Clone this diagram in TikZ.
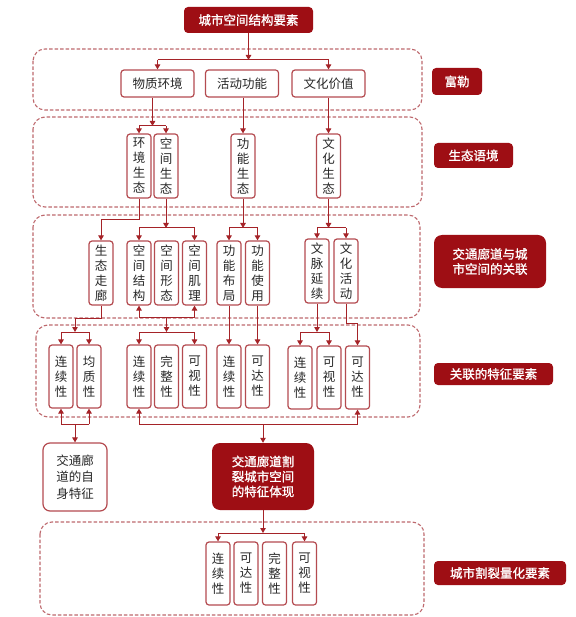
\documentclass[tikz,border=0pt]{standalone}
\usepackage{fontspec}
\newfontfamily\cjk{Noto Sans CJK SC}
\newfontfamily\cjkb[FakeBold=1.2]{Noto Sans CJK SC}
\usetikzlibrary{arrows.meta}
\definecolor{dred}{RGB}{158,14,20}
\definecolor{bred}{RGB}{180,75,80}
\definecolor{lred}{RGB}{165,35,40}
\definecolor{dashc}{RGB}{190,105,110}
\definecolor{txt}{RGB}{40,40,40}
\begin{document}
\begin{tikzpicture}[x=1pt,y=-1pt,
  every node/.style={font=\cjk\fontsize{12.5}{15}\selectfont},
  wbox/.style={draw=bred, line width=1.2pt, fill=white, rounded corners=3pt, text=txt, inner sep=0pt, align=center},
  hbox/.style={wbox, minimum width=73pt, minimum height=27pt},
  vbox/.style={wbox, minimum width=24pt, minimum height=64pt},
  dbox/.style={fill=dred, text=white, rounded corners=4pt, inner sep=0pt, align=center, font=\cjkb\fontsize{12.5}{15}\selectfont},
  region/.style={draw=dashc, dash pattern=on 3.5pt off 2pt, line width=1.1pt, rounded corners=12pt},
  con/.style={draw=lred, line width=1pt},
  arr/.style={con, -{Triangle[length=5pt,width=5.5pt]}},
]
\useasboundingbox (0,0) rectangle (575,617);
\fill[white] (0,0) rectangle (575,617);

% dashed regions
\draw[region] (33,49) rectangle (422,110);
\draw[region] (33,117) rectangle (422,207);
\draw[region] (33,215) rectangle (420,318);
\draw[region] (36,325) rectangle (420,417);
\draw[region] (40,522) rectangle (424,615);

% top
\node[dbox, minimum width=129pt, minimum height=26pt] (top) at (248.5,20) {城市空间结构要素};

% row 1
\node[hbox] (wz) at (157.5,83.5) {物质环境};
\node[hbox] (hd) at (242,83.5) {活动功能};
\node[hbox] (wh) at (328.5,83.5) {文化价值};

% row 2
\node[vbox] (hjst) at (139,166) {环\\境\\生\\态};
\node[vbox] (kjst) at (166,166) {空\\间\\生\\态};
\node[vbox] (gnst) at (243,166) {功\\能\\生\\态};
\node[vbox] (whst) at (328.5,166) {文\\化\\生\\态};

% row 3
\node[vbox] (stzl) at (101,273) {生\\态\\走\\廊};
\node[vbox] (kjjg) at (139,273) {空\\间\\结\\构};
\node[vbox] (kjxt) at (166.5,273) {空\\间\\形\\态};
\node[vbox] (kjjl) at (194.5,273) {空\\间\\肌\\理};
\node[vbox] (gnbj) at (229,273) {功\\能\\布\\局};
\node[vbox] (gnsy) at (257.5,273) {功\\能\\使\\用};
\node[vbox] (wmyx) at (317,271) {文\\脉\\延\\续};
\node[vbox] (whhd) at (346,271) {文\\化\\活\\动};

% row 4
\node[vbox, minimum height=63pt] (a1) at (61,376.5) {连\\续\\性};
\node[vbox, minimum height=63pt] (a2) at (89,376.5) {均\\质\\性};
\node[vbox, minimum height=63pt] (b1) at (139,376.5) {连\\续\\性};
\node[vbox, minimum height=63pt] (b2) at (166.5,376.5) {完\\整\\性};
\node[vbox, minimum height=63pt] (b3) at (194.5,376.5) {可\\视\\性};
\node[vbox, minimum height=63pt] (c1) at (229,376.5) {连\\续\\性};
\node[vbox, minimum height=63pt] (c2) at (257.5,376.5) {可\\达\\性};
\node[vbox, minimum height=63pt] (d1) at (300,377.5) {连\\续\\性};
\node[vbox, minimum height=63pt] (d2) at (329,377.5) {可\\视\\性};
\node[vbox, minimum height=63pt] (d3) at (357.5,377.5) {可\\达\\性};

% middle boxes
\node[wbox, minimum width=64pt, minimum height=68pt, rounded corners=7pt, font=\cjk\fontsize{12.5}{16.5}\selectfont] (self) at (75,477) {交通廊\\道的自\\身特征};
\node[dbox, minimum width=102pt, minimum height=67pt, rounded corners=8pt] (fx) at (263,476.5) {交通廊道割\\裂城市空间\\的特征体现};

% bottom row
\node[vbox, minimum height=63pt] (e1) at (218,573.5) {连\\续\\性};
\node[vbox, minimum height=63pt] (e2) at (246,573.5) {可\\达\\性};
\node[vbox, minimum height=63pt] (e3) at (274.5,573.5) {完\\整\\性};
\node[vbox, minimum height=63pt] (e4) at (304.5,573.5) {可\\视\\性};

% right labels
\node[dbox, minimum width=50pt, minimum height=27pt] (l1) at (457,81.5) {富勒};
\node[dbox, minimum width=79pt, minimum height=25pt] (l2) at (473.5,155.5) {生态语境};
\node[dbox, minimum width=112pt, minimum height=53pt, rounded corners=8pt] (l3) at (490,261.5) {交通廊道与城\\市空间的关联};
\node[dbox, minimum width=119pt, minimum height=22pt] (l4) at (493.5,374) {关联的特征要素};
\node[dbox, minimum width=132pt, minimum height=24pt] (l5) at (500,573) {城市割裂量化要素};

% connectors: top -> row 1
\coordinate (j0) at (248.5,60);
\draw[arr] (top.south) -- (j0);
\draw[con] (wz.north |- j0) -- (wh.north |- j0);
\draw[arr] (wz.north |- j0) -- (wz.north);
\draw[arr] (wh.north |- j0) -- (wh.north);

% row 1 -> row 2
\coordinate (j1) at (152.5,126);
\draw[arr] (j1 |- wz.south) -- (j1);
\draw[con] (hjst.north |- j1) -- (kjst.north |- j1);
\draw[arr] (hjst.north |- j1) -- (hjst.north);
\draw[arr] (kjst.north |- j1) -- (kjst.north);
\draw[arr] (gnst.north |- hd.south) -- (gnst.north);
\draw[arr] (wh.south) -- (whst.north);

% row 2 -> row 3
\draw[arr] (hjst.south) -- ++(0,21) -| (stzl.north);
\coordinate (j2) at (166,228);
\draw[arr] (kjst.south) -- (j2);
\draw[con] (kjjg.north |- j2) -- (kjjl.north |- j2);
\draw[arr] (kjjg.north |- j2) -- (kjjg.north);
\draw[arr] (kjjl.north |- j2) -- (kjjl.north);
\coordinate (j3) at (243,228);
\draw[arr] (gnst.south) -- (j3);
\draw[con] (gnbj.north |- j3) -- (gnsy.north |- j3);
\draw[arr] (gnbj.north |- j3) -- (gnbj.north);
\draw[arr] (gnsy.north |- j3) -- (gnsy.north);
\coordinate (j4) at (328.5,228);
\draw[arr] (whst.south) -- (j4);
\draw[con] (wmyx.north |- j4) -- (whhd.north |- j4);
\draw[arr] (wmyx.north |- j4) -- (wmyx.north);
\draw[arr] (whhd.north |- j4) -- (whhd.north);

% row 3 -> row 4
\coordinate (j5) at (75,332);
\draw[arr] (stzl.south) -- ++(0,13) -| (j5);
\draw[con] (a1.north |- j5) -- (a2.north |- j5);
\draw[arr] (a1.north |- j5) -- (a1.north);
\draw[arr] (a2.north |- j5) -- (a2.north);
\coordinate (j6) at (166.5,317);
\draw[con] (kjjg.south |- j6) -- (kjjl.south |- j6);
\draw[arr] (kjjg.south |- j6) -- (kjjg.south);
\draw[arr] (kjjl.south |- j6) -- (kjjl.south);
\coordinate (j7) at (166.5,332);
\draw[arr] (j6) -- (j7);
\draw[con] (b1.north |- j7) -- (b3.north |- j7);
\draw[arr] (b1.north |- j7) -- (b1.north);
\draw[arr] (b3.north |- j7) -- (b3.north);
\draw[arr] (gnbj.south) -- (c1.north);
\draw[arr] (gnsy.south) -- (c2.north);
\coordinate (j8) at (317,332);
\draw[arr] (wmyx.south) -- (j8);
\draw[con] (d1.north |- j8) -- (d2.north |- j8);
\draw[arr] (d1.north |- j8) -- (d1.north);
\draw[arr] (d2.north |- j8) -- (d2.north);
\draw[arr] (whhd.south) -- ++(0,20) -| (d3.north);

% row 4 -> middle boxes
\coordinate (j9) at (75,424);
\draw[con] (a1.south |- j9) -- (a2.south |- j9);
\draw[arr] (a1.south |- j9) -- (a1.south);
\draw[arr] (a2.south |- j9) -- (a2.south);
\draw[arr] (j9) -- (self.north);
\coordinate (j10) at (263,424);
\draw[con] (b1.south |- j10) -- (d3.south |- j10);
\draw[arr] (b1.south |- j10) -- (b1.south);
\draw[arr] (d3.south |- j10) -- (d3.south);
\draw[arr] (j10) -- (fx.north);

% middle -> bottom
\coordinate (j11) at (263,533);
\draw[arr] (fx.south) -- (j11);
\draw[con] (e1.north |- j11) -- (e4.north |- j11);
\draw[arr] (e1.north |- j11) -- (e1.north);
\draw[arr] (e4.north |- j11) -- (e4.north);
\end{tikzpicture}
\end{document}
